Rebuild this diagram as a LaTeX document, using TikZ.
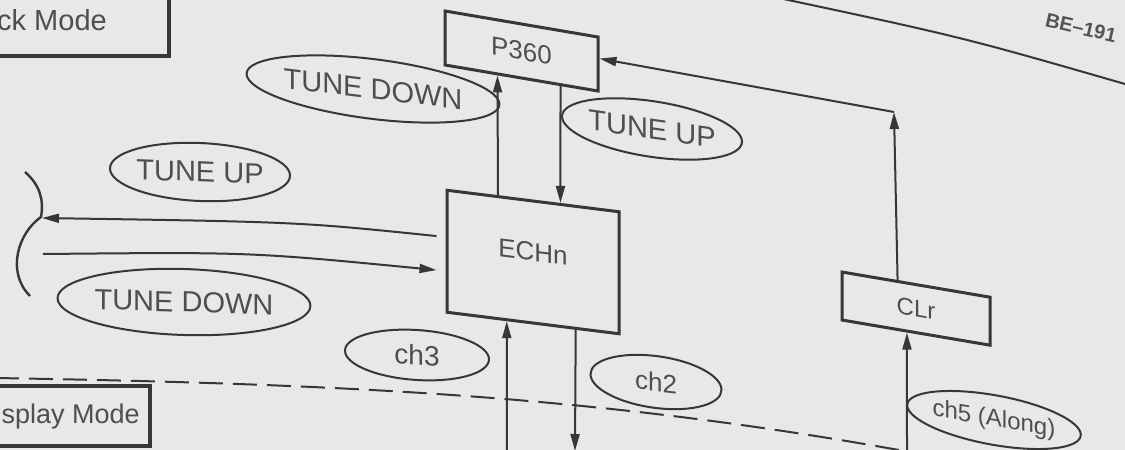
\documentclass[tikz,border=0pt]{standalone}
\usepackage{fontspec}
\setmainfont{Liberation Sans}
\usetikzlibrary{shapes.geometric,arrows.meta,calc}
\definecolor{bg}{RGB}{232,232,230}
\definecolor{ink}{RGB}{55,55,55}
\definecolor{txt}{RGB}{78,78,78}
\begin{document}
\begin{tikzpicture}[x=0.5pt,y=-0.5pt,
  every node/.style={text=txt},
  box/.style={draw=ink,line width=1.5pt,rectangle,inner sep=0pt},
  modebox/.style={draw=ink,line width=2.2pt,rectangle,font=\fontsize{14.5}{17}\selectfont},
  oval/.style={draw=ink,line width=1pt,ellipse,inner sep=0pt,font=\fontsize{14.5}{17}\selectfont},
  conn/.style={draw=ink,line width=1pt,-{Triangle[length=8.5pt,width=4.5pt]}},
  plain/.style={draw=ink,line width=1pt}]
\fill[bg] (0,0) rectangle (1125,450);
\useasboundingbox (0,0) rectangle (1125,450);

% page edge line and dashed separator
\draw[plain] (760,-6) .. controls (962,37) .. (1125,84);
\draw[plain,dash pattern=on 12pt off 5pt] (-5,378) .. controls (350,384) and (600,396) .. (910,452);

% mode boxes
\node[modebox,anchor=south east,inner xsep=31pt,inner ysep=12.5pt,text depth=0pt] (ck) at (171,58) {ck Mode};
\node[modebox,anchor=north east,inner xsep=5pt,inner ysep=8.5pt,text height=10pt,text depth=3pt,font=\fontsize{13.5}{16}\selectfont] (sp) at (152,384) {splay Mode};

% page number
\node[font=\bfseries\fontsize{10}{12}\selectfont,rotate=-13,text=ink!85] (be) at (1081,28) {BE–191};

% boxes
\node[box,yslant=-0.17,minimum width=76.5pt,minimum height=27pt,font=\fontsize{13}{15}\selectfont] (p) at (521.5,51) {P360};
\node[box,yslant=-0.125,minimum width=86pt,minimum height=61pt,text depth=10pt,font=\fontsize{13}{15}\selectfont] (e) at (533,262) {ECHn};
\node[box,yslant=-0.17,minimum width=74pt,minimum height=24pt,font=\fontsize{12}{14}\selectfont] (c) at (916,308.6) {CLr};

% labels
\node[oval,yslant=-0.12,minimum width=115pt,minimum height=30pt] (tdtop) at (373,89) {TUNE DOWN};
\node[oval,yslant=-0.14,minimum width=75pt,minimum height=28pt] (turight) at (652,129) {TUNE UP};
\node[oval,yslant=-0.04,minimum width=87.5pt,minimum height=29pt] (tuleft) at (200,172) {TUNE UP};
\node[oval,yslant=-0.03,minimum width=122.5pt,minimum height=33pt] (tdleft) at (184,302) {TUNE DOWN};
\node[oval,yslant=-0.06,minimum width=72pt,minimum height=25pt,font=\fontsize{14}{16}\selectfont] (chthree) at (417,355) {ch3};
\node[oval,yslant=-0.12,minimum width=65.5pt,minimum height=26pt,font=\fontsize{13}{15}\selectfont] (chtwo) at (656,382) {ch2};
\node[oval,yslant=-0.17,minimum width=72pt,minimum height=25pt,font=\fontsize{12}{14}\selectfont] (chfive) at (994,420) {ch5 (Along)};

% connectors
\draw[conn] ($(e.north west)!0.30!(e.north east)$) -- ($(p.south west)!0.346!(p.south east)$);
\draw[conn] ($(p.south west)!0.75!(p.south east)$) -- ($(e.north west)!0.657!(e.north east)$);

\coordinate (corner) at (894,112);
\draw[conn] ($(c.north west)!0.378!(c.north east)$) -- (corner);
\draw[conn] (corner) -- ($(p.north east)!0.4!(p.south east)$);

\coordinate (chfivesrc) at (907,456);
\draw[conn] (chfivesrc) -- ($(c.south west)!0.44!(c.south east)$);

\coordinate (upsrc) at (507,456);
\draw[conn] (upsrc) -- ($(e.south west)!0.35!(e.south east)$);
\coordinate (downdst) at (575,451);
\draw[conn] ($(e.south west)!0.744!(e.south east)$) -- (downdst);

% left bracket and its arrows
\draw[plain,line width=1.2pt] (25,172) .. controls (40,185) and (44,200) .. (41,217) .. controls (18,233) and (6,272) .. (30,296);
\coordinate (bmid) at (42,218);
\coordinate (bstart) at (43,254);
\draw[conn] ([xshift=-4.5pt,yshift=7.5pt]e.west) .. controls (300,222) .. (bmid);
\draw[conn] (bstart) .. controls (250,252) .. ([xshift=-4.5pt,yshift=-9.5pt]e.west);
\end{tikzpicture}
\end{document}
